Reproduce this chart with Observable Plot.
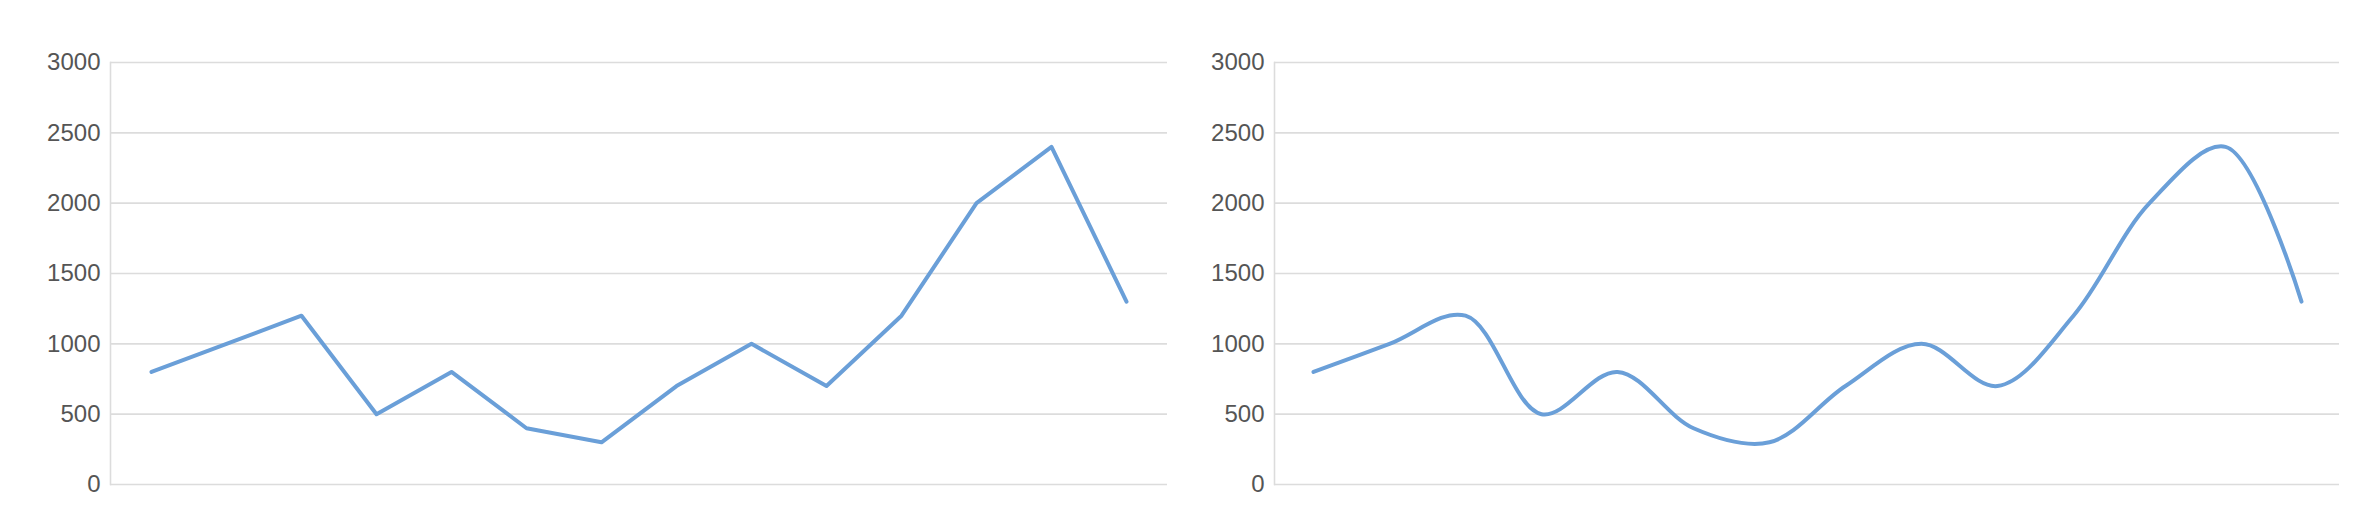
<!DOCTYPE html>
<html>
<head>
<meta charset="utf-8">
<script src="https://cdn.jsdelivr.net/npm/d3@7"></script>
<script src="https://cdn.jsdelivr.net/npm/@observablehq/plot@0.6"></script>
<style>
  html, body { margin: 0; padding: 0; background: #fff; }
  #wrap { display: flex; width: 2360px; height: 520px; }
  #wrap > div { width: 1180px; height: 520px; }
</style>
</head>
<body>
<div id="wrap"><div id="left"></div><div id="right"></div></div>
<script>
const categories = ["1","2","3","4","5","6","7","8","9","10","11","12","13","14"];
const values = [800, 1000, 1200, 500, 800, 400, 300, 700, 1000, 700, 1200, 2000, 2400, 1300];
const yTicks = [0, 500, 1000, 1500, 2000, 2500, 3000];

const data = categories.map((c, i) => ({cat: c, value: values[i]}));

function chart(curve, marginLeft, marginRight) {
  return Plot.plot({
    width: 1180,
    height: 520,
    marginLeft,
    marginRight,
    marginTop: 62,
    marginBottom: 36,
    style: {fontFamily: "'Liberation Sans', Arial, Helvetica, sans-serif", fontSize: "24px", color: "#555", background: "#fff"},
    x: {type: "point", domain: categories, padding: 0.5, axis: null},
    y: {domain: [0, 3000], ticks: yTicks, tickSize: 0, tickPadding: 10, tickFormat: d => String(d), label: null},
    marks: [
      Plot.ruleY(yTicks, {stroke: "#dcdcdc", strokeWidth: 1.6}),
      Plot.frame({anchor: "left", stroke: "#dcdcdc", strokeWidth: 1.6}),
      Plot.line(data, {x: "cat", y: "value", stroke: "#6a9fd8", strokeWidth: 4, curve})
    ]
  });
}

document.getElementById("left").appendChild(chart("linear", 110, 13));
document.getElementById("right").appendChild(chart("catmull-rom", 94, 21));
</script>
</body>
</html>
